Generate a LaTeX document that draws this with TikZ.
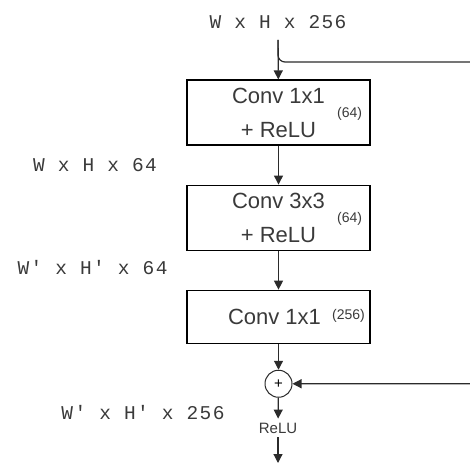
\documentclass[tikz,border=0pt]{standalone}
\usepackage{fontspec}
\setmainfont{Liberation Sans}
\newfontfamily\dimfont[LetterSpace=7]{Liberation Mono}
\usetikzlibrary{arrows.meta,positioning}
\definecolor{rbLine}{HTML}{2B2B2B}
\definecolor{rbText}{HTML}{3A3A3A}
\tikzset{
  layer/.style={draw=black, line width=1.1pt, minimum width=183pt, minimum height=65pt,
    font=\fontsize{22}{34}\selectfont, text=rbText, align=center, inner sep=0pt},
  chan/.style={font=\fontsize{14}{16}\selectfont, text=rbText, inner sep=0pt},
  dims/.style={font=\dimfont\fontsize{19.5}{22}\selectfont, text=rbText, inner sep=1pt},
  addnode/.style={draw=rbLine, circle, line width=1pt, minimum size=27pt, inner sep=0pt,
    font=\fontsize{15}{15}\selectfont},
  flow/.style={-{Triangle[length=9pt,width=9pt]}, line width=1.2pt, rbLine}
}
\begin{document}
\begin{tikzpicture}[x=1pt, y=-1pt, node distance=39pt]
  \useasboundingbox (0,0) rectangle (470,465);
  % input and the three conv layers
  \node[dims] (in) at (278,22) {W x H x 256};
  \node[layer] (c1) at (278.5,112.5) {Conv 1x1\\+ ReLU};
  \node[chan] (n1) at ([xshift=-21pt,yshift=-1.5pt]c1.east) {(64)};
  \node[layer, below=of c1] (c2) {Conv 3x3\\+ ReLU};
  \node[chan] (n2) at ([xshift=-21pt,yshift=-1.5pt]c2.east) {(64)};
  \node[layer, minimum height=53pt, below=of c2] (c3) {Conv 1x1\hspace*{8pt}};
  \node[chan] (n3) at ([xshift=-22pt,yshift=0.5pt]c3.east) {(256)};
  \node[addnode, below=26pt of c3] (add) {+};
  \node[text=rbText, font=\fontsize{15}{15}\selectfont, inner sep=4pt] (relu) at (278,428) {ReLU};
  \coordinate (out) at (278,463);
  \coordinate (skip) at (490,62);
  % feature map sizes
  \node[dims] (d1) at (95,165) {W x H x 64};
  \node[dims] (d2) at (92.5,268) {W' x H' x 64};
  \node[dims] (d3) at (143,413) {W' x H' x 256};
  % connections
  \draw[flow, shorten <=10pt] (in) -- (c1);
  \draw[flow] (c1) -- (c2);
  \draw[flow] (c2) -- (c3);
  \draw[flow] (c3) -- (add);
  \draw[flow] (add) -- (relu);
  \draw[flow] (relu) -- (out);
  \draw[flow, rounded corners=7pt, shorten <=10pt] (in.south) |- (skip) |- (add.east);
\end{tikzpicture}
\end{document}
